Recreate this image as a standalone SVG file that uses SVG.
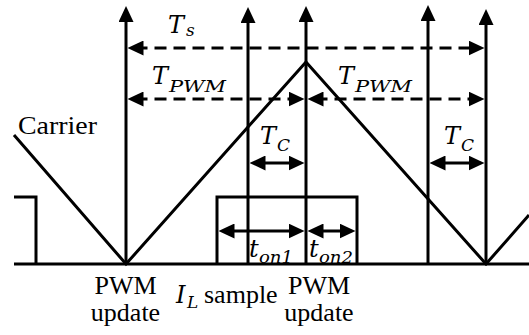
<svg xmlns="http://www.w3.org/2000/svg" width="529" height="335" viewBox="0 0 529 335">
<style>
.ln{stroke:#000;stroke-width:3;fill:none;stroke-linejoin:miter}
.ds{stroke-dasharray:12 7}
text{fill:#000}
.t{font-size:26px}
.m{font-style:italic;font-size:24px}
.s{font-size:17px}
</style>
<defs>
<marker id="ah" markerUnits="userSpaceOnUse" markerWidth="16" markerHeight="15" refX="8" refY="7.5" orient="auto-start-reverse" viewBox="0 0 16 15"><path d="M0,0 L16,7.5 L0,15 Z" fill="#000"/></marker>
</defs>
<rect width="529" height="335" fill="#fff"/>
<g id="axis">
<path class="ln" d="M14,264 H529"/>
</g>
<g id="carrier">
<polyline class="ln" points="14,135 126,264 306,62 486,264 529,215"/>
<text class="t" font-family="Liberation Serif, serif" x="18" y="134" textLength="79" lengthAdjust="spacingAndGlyphs">Carrier</text>
</g>
<g id="pulses">
<path class="ln" d="M14,197 H36 V264"/>
<path class="ln" d="M217,264 V197 H357 V264"/>
</g>
<g id="connectors">
<line class="ln" x1="126" y1="264" x2="126" y2="14" marker-end="url(#ah)"/>
<line class="ln" x1="248" y1="264" x2="248" y2="15" marker-end="url(#ah)"/>
<line class="ln" x1="306" y1="264" x2="306" y2="14" marker-end="url(#ah)"/>
<line class="ln" x1="428" y1="264" x2="428" y2="13" marker-end="url(#ah)"/>
<line class="ln" x1="486" y1="264" x2="486" y2="17" marker-end="url(#ah)"/>
<path class="ln ds" d="M135.5,48 H476.5" marker-start="url(#ah)" marker-end="url(#ah)"/>
<path class="ln ds" d="M135.5,99 H296.5" marker-start="url(#ah)" marker-end="url(#ah)"/>
<path class="ln ds" d="M315.5,99 H476.5" marker-start="url(#ah)" marker-end="url(#ah)"/>
<path class="ln" d="M257.5,163 H296.5" marker-start="url(#ah)" marker-end="url(#ah)"/>
<path class="ln" d="M437.5,163 H476.5" marker-start="url(#ah)" marker-end="url(#ah)"/>
<path class="ln" d="M226.5,231 H296.5" marker-start="url(#ah)" marker-end="url(#ah)"/>
<path class="ln" d="M315.5,231 H347.5" marker-start="url(#ah)" marker-end="url(#ah)"/>
</g>
<g id="labels" font-family="DejaVu Serif, serif">
<text class="m" x="168" y="33">T<tspan class="s" x="186" y="36">s</tspan></text>
<text class="m" x="152" y="84">T<tspan class="s" x="169" y="92" textLength="57" lengthAdjust="spacingAndGlyphs">PWM</tspan></text>
<text class="m" x="338" y="84">T<tspan class="s" x="355" y="92" textLength="57" lengthAdjust="spacingAndGlyphs">PWM</tspan></text>
<text class="m" x="260" y="144">T<tspan class="s" x="277" y="151">C</tspan></text>
<text class="m" x="444" y="144">T<tspan class="s" x="461" y="151">C</tspan></text>
<text class="m" x="249" y="257">t<tspan class="s" x="259" y="263" textLength="34" lengthAdjust="spacingAndGlyphs">on1</tspan></text>
<text class="m" x="309" y="257">t<tspan class="s" x="319" y="263" textLength="34" lengthAdjust="spacingAndGlyphs">on2</tspan></text>
<text class="t" font-family="Liberation Serif, serif" x="125.5" y="294" text-anchor="middle">PWM</text>
<text class="t" font-family="Liberation Serif, serif" x="125.5" y="321" text-anchor="middle">update</text>
<text class="t" font-family="Liberation Serif, serif" x="319" y="294" text-anchor="middle">PWM</text>
<text class="t" font-family="Liberation Serif, serif" x="319" y="321" text-anchor="middle">update</text>
<text class="m" x="176" y="303">I<tspan class="s" x="187" y="308">L</tspan><tspan class="t" font-family="Liberation Serif, serif" x="204" y="303" font-style="normal">sample</tspan></text>
</g>
</svg>
